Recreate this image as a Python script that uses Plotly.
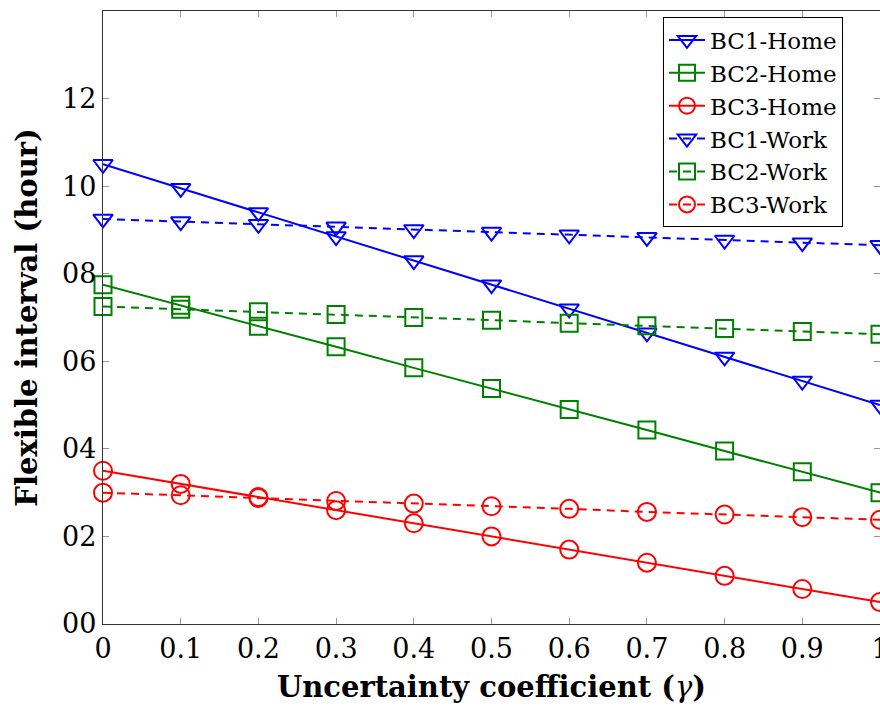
import plotly.graph_objects as go

gamma = [0, 0.1, 0.2, 0.3, 0.4, 0.5, 0.6, 0.7, 0.8, 0.9, 1.0]
x_tick_labels = ["0", "0.1", "0.2", "0.3", "0.4", "0.5", "0.6", "0.7", "0.8", "0.9", "1"]
y_tick_vals = [0, 2, 4, 6, 8, 10, 12]
y_tick_labels = ["00", "02", "04", "06", "08", "10", "12"]

bc1_home = [10.5, 9.95, 9.4, 8.85, 8.3, 7.75, 7.2, 6.65, 6.1, 5.55, 5.0]
bc2_home = [7.75, 7.28, 6.8, 6.33, 5.85, 5.38, 4.9, 4.43, 3.95, 3.48, 3.0]
bc3_home = [3.5, 3.2, 2.9, 2.6, 2.3, 2.0, 1.7, 1.4, 1.1, 0.8, 0.5]
bc1_work = [9.25, 9.19, 9.13, 9.07, 9.01, 8.95, 8.89, 8.83, 8.77, 8.71, 8.65]
bc2_work = [7.25, 7.19, 7.13, 7.07, 7.0, 6.94, 6.87, 6.81, 6.75, 6.68, 6.62]
bc3_work = [3.0, 2.94, 2.88, 2.81, 2.75, 2.69, 2.63, 2.56, 2.5, 2.44, 2.38]

BLUE = "rgb(0,0,255)"
GREEN = "rgb(0,128,0)"
RED = "rgb(255,0,0)"
FONT = "'DejaVu Serif', serif"

series = [
    ("BC1-Home", bc1_home, BLUE, "triangle-down-open", 17, "solid"),
    ("BC2-Home", bc2_home, GREEN, "square-open", 17, "solid"),
    ("BC3-Home", bc3_home, RED, "circle-open", 18, "solid"),
    ("BC1-Work", bc1_work, BLUE, "triangle-down-open", 17, "8px,6px"),
    ("BC2-Work", bc2_work, GREEN, "square-open", 17, "8px,6px"),
    ("BC3-Work", bc3_work, RED, "circle-open", 18, "8px,6px"),
]

fig = go.Figure()
for name, ys, col, sym, sz, dash in series:
    fig.add_trace(go.Scatter(
        x=gamma, y=ys, name=name, mode="lines+markers",
        line=dict(color=col, width=2, dash=dash),
        marker=dict(symbol=sym, size=sz, color=col, line=dict(color=col, width=2)),
        cliponaxis=False,
    ))

axis_common = dict(
    showline=True, linecolor="#333", linewidth=1.3, mirror="allticks",
    ticks="inside", ticklen=6, tickcolor="#999", tickwidth=1,
    showgrid=False, zeroline=False, automargin=False,
    ticklabeloverflow="allow",
    tickfont=dict(family=FONT, size=27, color="black"),
)

fig.update_layout(
    width=880, height=706,
    margin=dict(l=103, r=0, t=11, b=82, autoexpand=False),
    paper_bgcolor="white", plot_bgcolor="white",
    font=dict(family=FONT, color="black"),
    xaxis=dict(
        range=[0, 1], tickvals=gamma, ticktext=x_tick_labels,
        title=dict(text="<b>Uncertainty coefficient (</b><i>γ</i><b>)</b>",
                   font=dict(family=FONT, size=29, color="black"), standoff=14),
        **axis_common,
    ),
    yaxis=dict(
        range=[0, 14], tickvals=y_tick_vals, ticktext=y_tick_labels,
        title=dict(text="<b>Flexible interval (hour)</b>",
                   font=dict(family=FONT, size=29, color="black"), standoff=15),
        **axis_common,
    ),
    legend=dict(
        x=0.7207, y=0.9895, xanchor="left", yanchor="top",
        bordercolor="black", borderwidth=1, bgcolor="white",
        font=dict(family=FONT, size=23, color="black"),
        tracegroupgap=0, itemwidth=36,
        entrywidth=140, entrywidthmode="pixels",
    ),
    showlegend=True,
)

fig.write_html(
    "out.html",
    config={"displayModeBar": False},
    post_script="document.body.style.margin='0';document.body.style.overflow='hidden';",
)
